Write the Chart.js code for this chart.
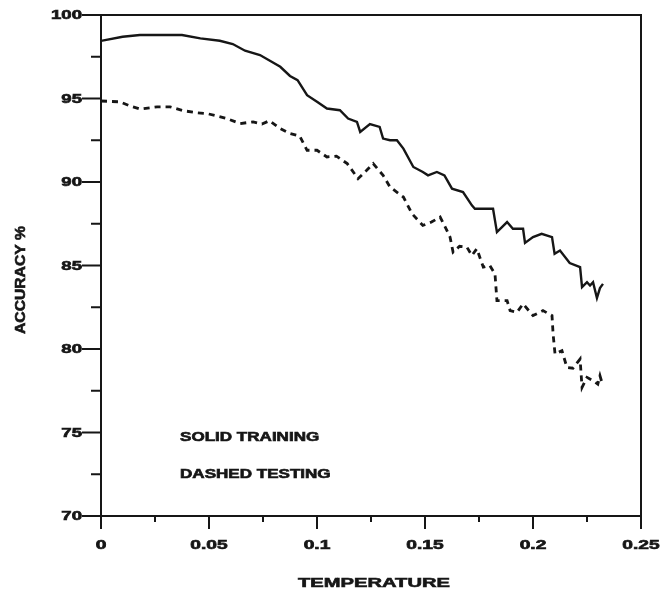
<!DOCTYPE html>
<html>
<head>
<meta charset="utf-8">
<script src="https://cdn.jsdelivr.net/npm/chart.js@4"></script>
<style>
  html, body { margin: 0; padding: 0; background: #fff; }
  #chart { display: block; }
</style>
</head>
<body>
<canvas id="chart" width="664" height="594"></canvas>
<script>
// Training curve (solid)
const trainTemp = [0, 0.010, 0.018, 0.0375, 0.046, 0.055, 0.061, 0.0667, 0.0736, 0.079,
  0.083, 0.0875, 0.091, 0.0954, 0.100, 0.1046, 0.1106, 0.1144, 0.1185, 0.120,
  0.1245, 0.129, 0.1306, 0.1338, 0.137, 0.140, 0.1446, 0.149, 0.1514, 0.1555,
  0.159, 0.1625, 0.1676, 0.1717, 0.1731, 0.1815, 0.1833, 0.188, 0.1907, 0.1954,
  0.1963, 0.200, 0.204, 0.2088, 0.210, 0.2125, 0.217, 0.2218, 0.2227, 0.225,
  0.2264, 0.2278, 0.2296, 0.231, 0.2324];
const trainAcc = [98.45, 98.7, 98.8, 98.8, 98.6, 98.46, 98.26, 97.86, 97.6, 97.2,
  96.9, 96.35, 96.1, 95.2, 94.8, 94.4, 94.3, 93.8, 93.6, 93.0,
  93.47, 93.3, 92.6, 92.5, 92.5, 92.0, 90.9, 90.6, 90.4, 90.6,
  90.4, 89.6, 89.4, 88.6, 88.4, 88.4, 87.0, 87.6, 87.2, 87.2,
  86.35, 86.7, 86.9, 86.7, 85.7, 85.9, 85.15, 84.9, 83.7, 84.0,
  83.8, 84.0, 83.05, 83.65, 83.9];

// Testing curve (dashed)
const testTemp = [0, 0.0088, 0.0134, 0.018, 0.026, 0.032, 0.038, 0.0444, 0.049, 0.0537,
  0.0583, 0.0644, 0.0704, 0.0745, 0.078, 0.083, 0.0875, 0.092, 0.0954, 0.100,
  0.1046, 0.109, 0.114, 0.119, 0.123, 0.126, 0.1306, 0.1338, 0.140, 0.144,
  0.149, 0.153, 0.157, 0.159, 0.1616, 0.163, 0.166, 0.1694, 0.1717, 0.174,
  0.177, 0.180, 0.1824, 0.1833, 0.188, 0.1894, 0.1926, 0.1954, 0.200, 0.2046,
  0.2088, 0.2093, 0.2102, 0.2134, 0.2157, 0.2185, 0.2218, 0.2227, 0.225, 0.2278,
  0.230, 0.231, 0.232];
const testAcc = [94.85, 94.8, 94.55, 94.37, 94.5, 94.5, 94.27, 94.15, 94.1, 93.95,
  93.8, 93.5, 93.6, 93.47, 93.67, 93.2, 92.9, 92.75, 91.9, 91.9,
  91.5, 91.55, 91.1, 90.2, 90.7, 91.1, 90.4, 89.7, 89.1, 88.1,
  87.4, 87.6, 87.9, 87.4, 86.7, 85.8, 86.15, 86.1, 85.6, 86.0,
  84.9, 85.0, 84.5, 82.9, 82.9, 82.3, 82.2, 82.7, 82.0, 82.3,
  82.0, 80.9, 79.7, 79.9, 78.9, 78.85, 79.4, 77.7, 78.3, 78.1,
  77.9, 78.4, 77.95];

// Axis ticks and labels
const xTicks = [0, 0.05, 0.1, 0.15, 0.2, 0.25];
const xTickLabels = ['0', '0.05', '0.1', '0.15', '0.2', '0.25'];
const xMinorTicks = [0.025, 0.075, 0.125, 0.175, 0.225];
const yTicks = [70, 75, 80, 85, 90, 95, 100];
const yTickLabels = ['70', '75', '80', '85', '90', '95', '100'];
const yMinorTicks = [72.5, 77.5, 82.5, 87.5, 92.5, 97.5];

const xTitle = 'TEMPERATURE';
const yTitle = 'ACCURACY %';
const legendLines = ['SOLID TRAINING', 'DASHED TESTING'];

const INK = '#161616';

// draw text stretched horizontally, like the old plotter lettering
function wideText(ctx, text, x, y, sx, align, size) {
    ctx.save();
    ctx.translate(x, y);
    ctx.scale(sx, 1);
    ctx.font = 'bold ' + size + 'px "Liberation Sans", Arial, sans-serif';
    ctx.textAlign = align;
    ctx.textBaseline = 'middle';
    ctx.fillStyle = INK;
    ctx.strokeStyle = INK;
    ctx.lineWidth = 0.6;
    ctx.fillText(text, 0, 0);
    ctx.strokeText(text, 0, 0);
    ctx.restore();
}

const paperAxes = {
    id: 'paperAxes',
    afterDraw(chart) {
        const ctx = chart.ctx;
        const xs = chart.scales.x;
        const ys = chart.scales.y;
        const { left, right, top, bottom } = chart.chartArea;

        ctx.save();
        ctx.strokeStyle = INK;
        ctx.lineWidth = 2;
        ctx.lineCap = 'butt';

        // frame
        ctx.beginPath();
        ctx.moveTo(left, top);
        ctx.lineTo(right, top);
        ctx.moveTo(right, top - 1);
        ctx.lineTo(right, bottom + 1);
        ctx.moveTo(left, top - 1);
        ctx.lineTo(left, bottom + 1);
        ctx.moveTo(left, bottom);
        ctx.lineTo(right, bottom);
        ctx.stroke();

        // y ticks (outside, to the left)
        ctx.beginPath();
        yTicks.forEach(v => {
            const py = ys.getPixelForValue(v);
            ctx.moveTo(left - 19, py);
            ctx.lineTo(left, py);
        });
        yMinorTicks.forEach(v => {
            const py = ys.getPixelForValue(v);
            ctx.moveTo(left - 10, py);
            ctx.lineTo(left, py);
        });
        // x ticks (outside, below)
        xTicks.forEach(v => {
            const px = xs.getPixelForValue(v);
            ctx.moveTo(px, bottom);
            ctx.lineTo(px, bottom + 13);
        });
        xMinorTicks.forEach(v => {
            const px = xs.getPixelForValue(v);
            ctx.moveTo(px, bottom);
            ctx.lineTo(px, bottom + 6);
        });
        ctx.stroke();
        ctx.restore();

        // tick labels
        yTicks.forEach((v, i) => {
            wideText(ctx, yTickLabels[i], left - 19, ys.getPixelForValue(v) + 1, 1.55, 'right', 12);
        });
        xTicks.forEach((v, i) => {
            wideText(ctx, xTickLabels[i], xs.getPixelForValue(v), bottom + 30, 1.6, 'center', 12);
        });

        // axis titles
        wideText(ctx, xTitle, (left + right) / 2 + 3, bottom + 67, 1.55, 'center', 13);
        ctx.save();
        ctx.translate(21, 280);
        ctx.rotate(-Math.PI / 2);
        wideText(ctx, yTitle, 0, 0, 1.12, 'center', 14);
        ctx.restore();

        // legend notes inside the plot
        wideText(ctx, legendLines[0], xs.getPixelForValue(0.0366), ys.getPixelForValue(74.7), 1.42, 'left', 12);
        wideText(ctx, legendLines[1], xs.getPixelForValue(0.0366), ys.getPixelForValue(72.5), 1.42, 'left', 12);
    }
};

const toPoints = (xsArr, ysArr) => xsArr.map((x, i) => ({ x: x, y: ysArr[i] }));

new Chart(document.getElementById('chart'), {
    type: 'line',
    data: {
        datasets: [{
            label: 'Training',
            data: toPoints(trainTemp, trainAcc),
            borderColor: INK,
            borderWidth: 2.4,
            pointRadius: 0,
            tension: 0,
            fill: false
        }, {
            label: 'Testing',
            data: toPoints(testTemp, testAcc),
            borderColor: INK,
            borderWidth: 2.8,
            borderDash: [6, 5],
            pointRadius: 0,
            tension: 0,
            fill: false
        }]
    },
    options: {
        responsive: false,
        animation: false,
        layout: { padding: { top: 15, right: 23, left: 0, bottom: 0 } },
        plugins: {
            legend: { display: false },
            tooltip: { enabled: false }
        },
        scales: {
            x: {
                type: 'linear',
                min: 0,
                max: 0.25,
                grid: { display: false },
                border: { display: false },
                ticks: { display: false },
                afterFit: scale => { scale.height = 78; }
            },
            y: {
                type: 'linear',
                min: 70,
                max: 100,
                grid: { display: false },
                border: { display: false },
                ticks: { display: false },
                afterFit: scale => { scale.width = 101; }
            }
        }
    },
    plugins: [paperAxes]
});
</script>
</body>
</html>
